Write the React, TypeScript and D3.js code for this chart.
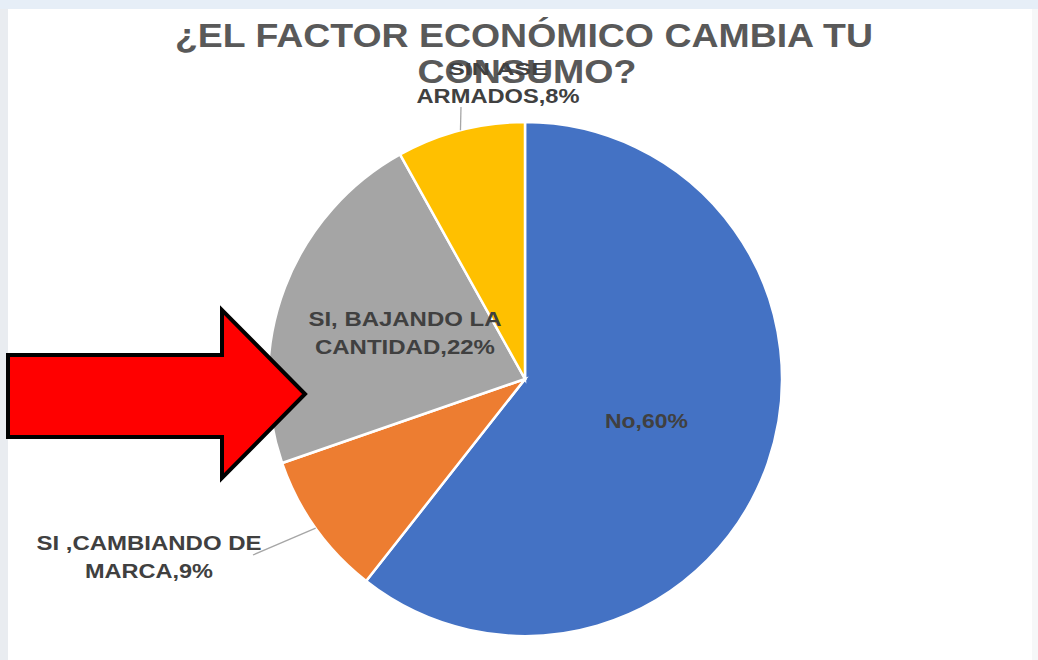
import React from "react";
import * as d3 from "d3";

const titleLines = ["¿EL FACTOR ECONÓMICO CAMBIA TU", "CONSUMO?"];
const categories = ["No", "SI ,CAMBIANDO DE MARCA", "SI, BAJANDO LA CANTIDAD", "SIN ASE ARMADOS"];
const values = [60, 9, 22, 8];
const colors = ["#4472C4", "#ED7D31", "#A5A5A5", "#FFC000"];
const labelLines = [["No,60%"], ["SI ,CAMBIANDO DE", "MARCA,9%"], ["SI, BAJANDO LA", "CANTIDAD,22%"], ["SIN ASE", "ARMADOS,8%"]];

// layout (not data)
const W = 1038, H = 660;
const cx = 525, cy = 379, R = 257;
const insideLabel = [true, false, true, false];
const leaderEnd: ([number, number] | null)[] = [null, [253, 555], null, [461, 107]];
const labelCenter: ([number, number] | null)[] = [null, [149, 540], null, [498, 65]];
const lineWidths: number[][] = [[83], [225, 128], [193, 180], [100, 163]];

export default function App() {
  const pie = d3.pie<number>().sort(null).value((d) => d);
  const arcs = pie(values);
  const arc = d3.arc<d3.PieArcDatum<number>>().innerRadius(0).outerRadius(R);
  const labelArc = d3.arc<d3.PieArcDatum<number>>().innerRadius(R * 0.5).outerRadius(R * 0.5);
  const edgeArc = d3.arc<d3.PieArcDatum<number>>().innerRadius(R).outerRadius(R);
  const font = "'Liberation Sans', Arial, sans-serif";

  return (
    <div style={{ position: "fixed", left: 0, top: 0 }}>
      <svg width={W} height={H} style={{ display: "block" }}>
        <rect x={0} y={0} width={W} height={H} fill="#F6F7F8" />
        <rect x={0} y={0} width={8} height={H} fill="#E9ECF0" />
        <rect x={0} y={0} width={W} height={9} fill="#E6EEF7" />
        <rect x={8} y={9} width={1024} height={H - 9} fill="#FFFFFF" />
        <g fontFamily={font} fontWeight="bold" fill="#595959" textAnchor="middle">
          <text x={524} y={47} fontSize={33} textLength={698} lengthAdjust="spacingAndGlyphs">{titleLines[0]}</text>
          <text x={527} y={83} fontSize={33} textLength={219} lengthAdjust="spacingAndGlyphs">{titleLines[1]}</text>
        </g>
        <g transform={`translate(${cx},${cy})`}>
          {arcs.map((a, i) => (
            <path key={categories[i]} d={arc(a) || ""} fill={colors[i]} stroke="#FFFFFF" strokeWidth={2.5} />
          ))}
        </g>
        {arcs.map((a, i) => {
          const lines = labelLines[i];
          if (insideLabel[i]) {
            const [lx, ly] = labelArc.centroid(a);
            const x = cx + lx, y = cy + ly;
            const n = lines.length;
            return (
              <g key={"l" + i} fontFamily={font} fontWeight="bold" fontSize={20} fill="#404040" textAnchor="middle">
                {lines.map((t, j) => (
                  <text key={j} x={x} y={y + (j - (n - 1) / 2) * 28 + 7} textLength={lineWidths[i][j]} lengthAdjust="spacingAndGlyphs">{t}</text>
                ))}
              </g>
            );
          }
          const [ex, ey] = edgeArc.centroid(a);
          const end = leaderEnd[i]!;
          const c = labelCenter[i]!;
          return (
            <g key={"l" + i}>
              <line x1={cx + ex} y1={cy + ey} x2={end[0]} y2={end[1]} stroke="#A6A6A6" strokeWidth={1.3} />
              <g fontFamily={font} fontWeight="bold" fontSize={20} fill="#404040" textAnchor="middle">
                {lines.map((t, j) => (
                  <text key={j} x={c[0]} y={c[1] + j * 28 + 10} textLength={lineWidths[i][j]} lengthAdjust="spacingAndGlyphs" fontSize={i === 3 && j === 0 ? 16 : 20}>{t}</text>
                ))}
              </g>
            </g>
          );
        })}
        <path d="M8,355 L222,355 L222,310 L305,394 L222,478 L222,437 L8,437 Z" fill="#FF0000" stroke="#000000" strokeWidth={4} strokeLinejoin="miter" />
      </svg>
    </div>
  );
}
